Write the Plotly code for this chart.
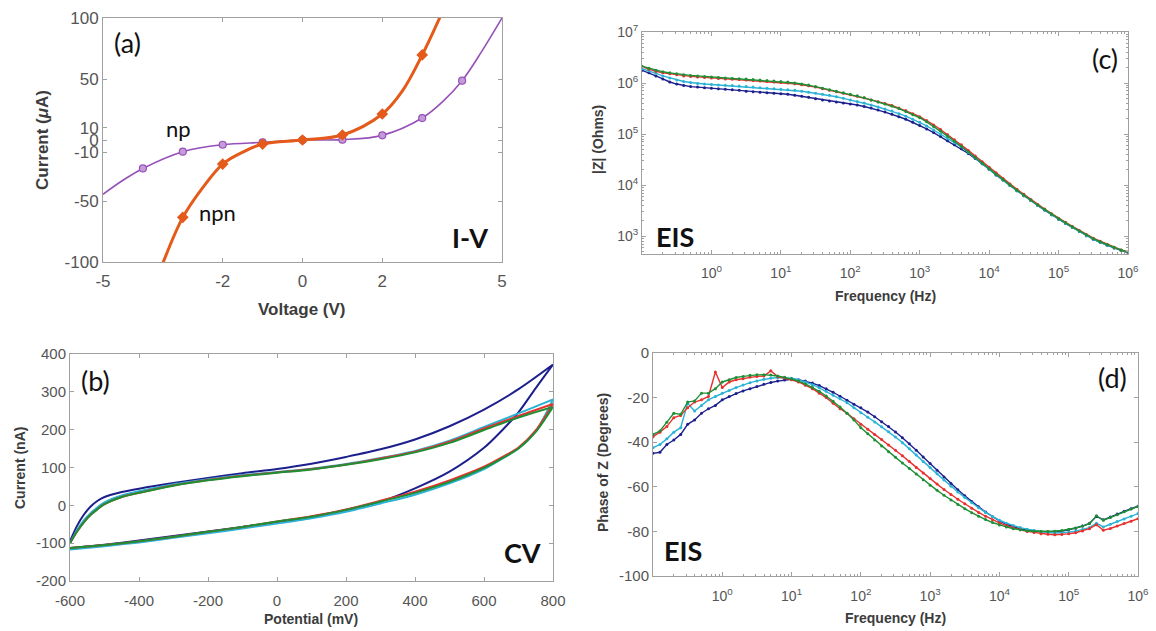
import numpy as np
import plotly.graph_objects as go

W, H = 1156, 631

# ---------------- (a) I-V characteristics ----------------
np_v = [-5, -4.5, -4, -3, -2, -1, 0, 1, 2, 3, 3.5, 4, 4.5, 5]
np_i = [-44.5, -33, -23.3, -9.6, -3.9, -1.9, 0, 0.3, 3.8, 18, 31, 48.6, 73, 100]
np_marker_v = [-4, -3, -2, -1, 0, 1, 2, 3, 4]

npn_v = [-3.5, -3, -2.5, -2, -1.5, -1, 0, 1, 2, 2.5, 3, 3.45]
npn_i = [-101, -63.4, -39, -19.7, -10, -3.3, 0, 4.1, 21.3, 40, 69.7, 101]
npn_marker_v = [-3, -2, -1, 0, 1, 2, 3]

iv_xticks = [-5, -2, 0, 2, 5]
iv_yticks = [-100, -50, -10, 0, 10, 50, 100]

# ---------------- (b) cyclic voltammetry ----------------
cv_e_fwd = [-600, -580, -560, -540, -520, -500, -450, -400, -300, -200, -100,
            0, 100, 200, 300, 400, 500, 600, 700, 800]
cv_e_rev = [800, 750, 700, 650, 600, 500, 400, 300, 200, 100, 0,
            -100, -200, -300, -400, -500, -600]

cv_navy_fwd = [-95, -55, -25, -3, 12, 22, 35, 44, 59, 72, 85,
               96, 110, 128, 148, 174, 209, 253, 307, 372]
cv_navy_rev = [372, 310, 246, 196, 152, 89, 45, 10, -12, -30, -45,
               -57, -69, -81, -93, -104, -113]

cv_cyan_fwd = [-100, -66, -40, -20, -5, 8, 26, 37, 56, 69, 80,
               88, 97, 109, 125, 144, 171, 207, 243, 280]
cv_cyan_rev = [280, 196, 150, 122, 96, 58, 28, 5, -17, -34, -48,
               -61, -74, -86, -98, -108, -117]

cv_red_fwd = [-100, -70, -45, -25, -10, 3, 22, 33, 53, 67, 78,
              87, 96, 108, 124, 142, 168, 203, 236, 268]
cv_red_rev = [268, 198, 153, 126, 102, 66, 36, 12, -11, -29, -43,
              -57, -70, -83, -95, -105, -113]

cv_green_fwd = [-100, -70, -45, -25, -10, 3, 22, 33, 52, 66, 77,
                86, 95, 107, 122, 140, 165, 199, 232, 260]
cv_green_rev = [260, 194, 150, 123, 99, 62, 33, 10, -12, -30, -43,
                -57, -70, -83, -95, -105, -113]

cv_xticks = [-600, -400, -200, 0, 200, 400, 600, 800]
cv_yticks = [-200, -100, 0, 100, 200, 300, 400]

# ---------------- (c), (d) impedance spectra ----------------
freq_hz = np.logspace(-1, 6, 71)   # 10 points per decade, 0.1 Hz .. 1 MHz

zlog_navy = [6.25, 6.20, 6.14, 6.08, 6.02, 5.98, 5.95, 5.93, 5.92, 5.91,
             5.90, 5.89, 5.88, 5.87, 5.86, 5.84, 5.83, 5.82, 5.81, 5.80,
             5.79, 5.78, 5.76, 5.74, 5.72, 5.69, 5.67, 5.65, 5.63, 5.61,
             5.59, 5.57, 5.54, 5.51, 5.47, 5.43, 5.39, 5.34, 5.29, 5.23,
             5.17, 5.10, 5.03, 4.95, 4.87, 4.79, 4.71, 4.62, 4.52, 4.42,
             4.31, 4.20, 4.10, 3.99, 3.89, 3.79, 3.70, 3.60, 3.51, 3.42,
             3.33, 3.25, 3.17, 3.09, 3.01, 2.94, 2.88, 2.82, 2.77, 2.72, 2.68]
zlog_cyan = [6.28, 6.24, 6.19, 6.14, 6.10, 6.06, 6.03, 6.01, 5.99, 5.98,
             5.97, 5.96, 5.955, 5.95, 5.94, 5.93, 5.92, 5.91, 5.90, 5.89,
             5.88, 5.87, 5.86, 5.84, 5.82, 5.80, 5.78, 5.76, 5.73, 5.70,
             5.67, 5.64, 5.61, 5.57, 5.53, 5.49, 5.45, 5.40, 5.35, 5.29,
             5.23, 5.16, 5.08, 5.00, 4.92, 4.83, 4.75, 4.64, 4.53, 4.42,
             4.31, 4.20, 4.10, 3.99, 3.89, 3.79, 3.70, 3.60, 3.51, 3.42,
             3.33, 3.25, 3.17, 3.09, 3.01, 2.94, 2.88, 2.82, 2.77, 2.72, 2.68]
zlog_red = [6.32, 6.27, 6.23, 6.20, 6.18, 6.16, 6.14, 6.13, 6.12, 6.11,
            6.10, 6.09, 6.08, 6.075, 6.07, 6.06, 6.05, 6.04, 6.03, 6.02,
            6.01, 6.00, 5.985, 5.965, 5.945, 5.92, 5.89, 5.86, 5.83, 5.80,
            5.77, 5.74, 5.71, 5.67, 5.635, 5.60, 5.56, 5.51, 5.46, 5.40,
            5.34, 5.265, 5.18, 5.09, 4.99, 4.89, 4.79, 4.68, 4.57, 4.46,
            4.35, 4.24, 4.13, 4.02, 3.92, 3.82, 3.72, 3.62, 3.53, 3.44,
            3.35, 3.27, 3.19, 3.11, 3.03, 2.96, 2.90, 2.84, 2.78, 2.73, 2.69]
zlog_green = [6.33, 6.29, 6.25, 6.22, 6.20, 6.18, 6.16, 6.15, 6.14, 6.13,
              6.12, 6.11, 6.10, 6.09, 6.085, 6.08, 6.07, 6.06, 6.05, 6.04,
              6.03, 6.02, 6.00, 5.98, 5.96, 5.93, 5.90, 5.87, 5.84, 5.81,
              5.78, 5.75, 5.71, 5.67, 5.63, 5.59, 5.55, 5.50, 5.44, 5.38,
              5.32, 5.24, 5.15, 5.06, 4.96, 4.86, 4.76, 4.65, 4.54, 4.43,
              4.32, 4.21, 4.11, 4.00, 3.90, 3.80, 3.71, 3.61, 3.52, 3.43,
              3.34, 3.26, 3.18, 3.10, 3.02, 2.95, 2.89, 2.83, 2.78, 2.73, 2.69]

phase_navy = [-45, -44.5, -41, -39, -36.5, -32, -30, -27, -25, -23.5,
              -21, -19.5, -18.2, -17, -16, -15, -14, -13.2, -12.6, -12.1,
              -11.8, -12, -12.6, -13.5, -14.6, -16, -17.6, -19.4, -21.2, -23,
              -24.5, -26.5, -28.6, -30.8, -33, -35.4, -38, -40.7, -43.6, -46.6,
              -49.6, -52.6, -55.6, -58.5, -61.3, -64, -66.6, -69, -71.3, -73.4,
              -75.3, -76.8, -78, -78.9, -79.5, -79.9, -80.1, -80.2, -80.1, -79.8,
              -79.3, -78.6, -77.6, -76.4, -73.2, -74.8, -73.5, -72.2, -71, -69.8, -68.7]
phase_cyan = [-42.5, -41, -38.5, -35.5, -33.5, -22.5, -26, -23.5, -21, -19.5,
              -18, -16.8, -15.5, -14.3, -13.3, -12.5, -11.8, -11.3, -11, -11,
              -11.3, -12, -13, -14.2, -15.6, -17.2, -19, -20.5, -22.3, -24.5,
              -26.8, -28.8, -30.9, -33.1, -35.3, -37.7, -40.2, -42.9, -45.7, -48.6,
              -51.4, -54.2, -57, -59.7, -62.3, -64.8, -67.2, -69.4, -71.5, -73.4,
              -75, -76.3, -77.4, -78.3, -79, -79.6, -80.1, -80.5, -80.7, -80.7,
              -80.4, -79.9, -79.2, -78.3, -76.3, -78, -76.8, -75.6, -74.4, -73.2, -72]
phase_red = [-37.5, -35.5, -33, -29, -28, -24.5, -22, -21, -19.5, -8.5,
             -15.5, -13, -12, -11.5, -10.8, -10.5, -10.3, -8, -10.6, -11.2,
             -12, -13, -14.5, -16, -18, -20, -22.5, -25, -27, -29.5,
             -32, -34.2, -36.5, -38.8, -41.2, -43.6, -46.1, -48.7, -51.3, -53.8,
             -56.3, -58.8, -61.2, -63.5, -65.6, -67.6, -69.6, -71.5, -73.2, -74.8,
             -76.2, -77.4, -78.4, -79.3, -80, -80.5, -81, -81.3, -81.5, -81.4,
             -81.1, -80.6, -79.8, -78.8, -77, -79.5, -78.7, -77.6, -76.5, -75.4, -74.3]
phase_green = [-36.5, -35, -31, -27, -27.5, -22, -21.5, -18, -18, -16,
               -13, -12, -11, -10.5, -10, -9.8, -9.7, -9.9, -10.3, -10.9,
               -11.6, -12.6, -13.9, -15.4, -17.2, -19.3, -21.6, -24.2, -27, -30,
               -33.5, -36.2, -39, -41.7, -44.3, -46.8, -49.3, -51.8, -54.3, -56.8,
               -59.3, -61.6, -63.8, -65.9, -67.9, -69.8, -71.6, -73.2, -74.7, -76,
               -77.1, -78, -78.8, -79.3, -79.7, -79.9, -80, -80, -79.9, -79.6,
               -79.2, -78.5, -77.6, -76.5, -73, -75, -73.8, -72.5, -71.2, -70, -68.8]

freq_tick_exp = [0, 1, 2, 3, 4, 5, 6]
zmag_tick_exp = [3, 4, 5, 6, 7]
phase_ticks = [-100, -80, -60, -40, -20, 0]

# ---------------- styling ----------------
NAVY = "#1c1f8c"
CYAN = "#2bb3d6"
RED = "#e8302e"
GREEN = "#1f8f35"
PURPLE = "#9651b8"
ORANGE = "#e45a1a"
FRAME = "#a0a0a0"
TICK_COLOR = "#555555"
TITLE_COLOR = "#3c3c3c"
SANS = "Liberation Sans, Arial, sans-serif"
LABEL_FONT = "Lato, Open Sans, sans-serif"


def dom_x(x0, x1):
    return [x0 / W, x1 / W]


def dom_y(y0, y1):
    return [1 - y1 / H, 1 - y0 / H]


def axis(domain, anchor, size, **kw):
    d = dict(domain=domain, anchor=anchor, showline=True, linecolor=FRAME,
             linewidth=1, mirror="allticks", ticks="inside", ticklen=4,
             tickcolor=FRAME, showgrid=False, zeroline=False, automargin=False,
             tickfont=dict(family=SANS, color=TICK_COLOR, size=size))
    d.update(kw)
    return d


def lin_labels(vals):
    # plain hyphen-minus, as in the printed figure
    return [str(v) for v in vals]


def pow_labels(exps):
    return [f"10<sup>{e}</sup>" for e in exps]


fig = go.Figure()

# (a)
fig.add_trace(go.Scatter(x=np_v, y=np_i, mode="lines", line=dict(color=PURPLE, width=1.6, shape="spline"),
                         xaxis="x", yaxis="y", showlegend=False))
np_mk = [(v, i) for v, i in zip(np_v, np_i) if v in np_marker_v]
fig.add_trace(go.Scatter(x=[p[0] for p in np_mk], y=[p[1] for p in np_mk], mode="markers",
                         marker=dict(symbol="circle", size=7, color="#c39bd8",
                                     line=dict(color=PURPLE, width=1.2)),
                         xaxis="x", yaxis="y", showlegend=False))
fig.add_trace(go.Scatter(x=npn_v, y=npn_i, mode="lines", line=dict(color=ORANGE, width=3, shape="spline"),
                         xaxis="x", yaxis="y", showlegend=False))
npn_mk = [(v, i) for v, i in zip(npn_v, npn_i) if v in npn_marker_v]
fig.add_trace(go.Scatter(x=[p[0] for p in npn_mk], y=[p[1] for p in npn_mk], mode="markers",
                         marker=dict(symbol="diamond", size=9, color=ORANGE),
                         xaxis="x", yaxis="y", showlegend=False))

# (b)
for fwd, rev, col in [(cv_navy_fwd, cv_navy_rev, NAVY), (cv_cyan_fwd, cv_cyan_rev, CYAN),
                      (cv_red_fwd, cv_red_rev, RED), (cv_green_fwd, cv_green_rev, GREEN)]:
    fig.add_trace(go.Scatter(x=cv_e_fwd + cv_e_rev, y=fwd + rev, mode="lines",
                             line=dict(color=col, width=2, shape="spline", smoothing=0.8),
                             xaxis="x2", yaxis="y2", showlegend=False))

# (c) and (d)
for zl, ph, col in [(zlog_navy, phase_navy, NAVY), (zlog_cyan, phase_cyan, CYAN),
                    (zlog_red, phase_red, RED), (zlog_green, phase_green, GREEN)]:
    fig.add_trace(go.Scatter(x=freq_hz, y=[10 ** z for z in zl], mode="lines+markers",
                             line=dict(color=col, width=1.4), marker=dict(size=3, color=col),
                             xaxis="x3", yaxis="y3", showlegend=False))
    fig.add_trace(go.Scatter(x=freq_hz, y=ph, mode="lines+markers",
                             line=dict(color=col, width=1.4), marker=dict(size=3, color=col),
                             xaxis="x4", yaxis="y4", showlegend=False))

minor_log = dict(ticks="inside", ticklen=2, tickcolor=FRAME, dtick="D1", showgrid=False)

fig.update_layout(
    width=W, height=H, autosize=False,
    margin=dict(l=0, r=0, t=0, b=0, pad=0, autoexpand=False),
    paper_bgcolor="white", plot_bgcolor="white",
    xaxis=axis(dom_x(103, 502), "y", 17, range=[-5, 5], tickvals=iv_xticks,
               ticktext=lin_labels(iv_xticks), ticklabelstandoff=4),
    yaxis=axis(dom_y(18, 262), "x", 17, range=[-100, 100], tickvals=iv_yticks,
               ticktext=lin_labels(iv_yticks)),
    xaxis2=axis(dom_x(70, 553), "y2", 15, range=[-600, 800], tickvals=cv_xticks,
                ticktext=lin_labels(cv_xticks), ticklabelstandoff=6),
    yaxis2=axis(dom_y(354, 581), "x2", 15, range=[-200, 400], tickvals=cv_yticks,
                ticktext=lin_labels(cv_yticks)),
    xaxis3=axis(dom_x(642, 1128), "y3", 14, type="log", range=[-1, 6],
                tickvals=[10 ** e for e in freq_tick_exp], ticktext=pow_labels(freq_tick_exp),
                minor=minor_log, ticklabelstandoff=6),
    yaxis3=axis(dom_y(32, 254), "x3", 14, type="log", range=[2.65, 7],
                tickvals=[10 ** e for e in zmag_tick_exp], ticktext=pow_labels(zmag_tick_exp),
                minor=minor_log),
    xaxis4=axis(dom_x(653, 1138), "y4", 14, type="log", range=[-1, 6],
                tickvals=[10 ** e for e in freq_tick_exp], ticktext=pow_labels(freq_tick_exp),
                minor=minor_log, ticklabelstandoff=7),
    yaxis4=axis(dom_y(353, 576), "x4", 15, range=[-100, 0], tickvals=phase_ticks,
                ticktext=lin_labels(phase_ticks)),
)


def note(text, x, y, size, bold=False, family=LABEL_FONT, color="#111111", angle=0):
    fig.add_annotation(x=x / W, y=1 - y / H, xref="paper", yref="paper", text=f"<b>{text}</b>" if bold else text,
                       showarrow=False, xanchor="center", yanchor="middle", textangle=angle,
                       font=dict(family=family, size=size, color=color))


# panel tags and annotations
note("(a)", 127, 42, 27)
note("np", 178, 128, 22)
note("npn", 217, 212, 22)
note("I-V", 470, 238, 27, bold=True)
note("(b)", 95, 380, 27)
note("CV", 522, 552, 27, bold=True)
note("(c)", 1105, 58, 27)
note("EIS", 675, 236, 27, bold=True)
note("(d)", 1112, 377, 27)
note("EIS", 683, 550, 27, bold=True)

# axis titles
note("Current (<i>μ</i>A)", 42, 140, 17, bold=True, family=SANS, color=TITLE_COLOR, angle=-90)
note("Voltage (V)", 302, 309, 17, bold=True, family=SANS, color=TITLE_COLOR)
note("Current (nA)", 20, 468, 14, bold=True, family=SANS, color=TITLE_COLOR, angle=-90)
note("Potential (mV)", 311, 619, 14, bold=True, family=SANS, color=TITLE_COLOR)
note("|Z| (Ohms)", 598, 140, 14, bold=True, family=SANS, color=TITLE_COLOR, angle=-90)
note("Frequency (Hz)", 885, 296, 14, bold=True, family=SANS, color=TITLE_COLOR)
note("Phase of Z (Degrees)", 603, 463, 14, bold=True, family=SANS, color=TITLE_COLOR, angle=-90)
note("Frequency (Hz)", 895, 618, 14, bold=True, family=SANS, color=TITLE_COLOR)

fig.write_html("out.html")
